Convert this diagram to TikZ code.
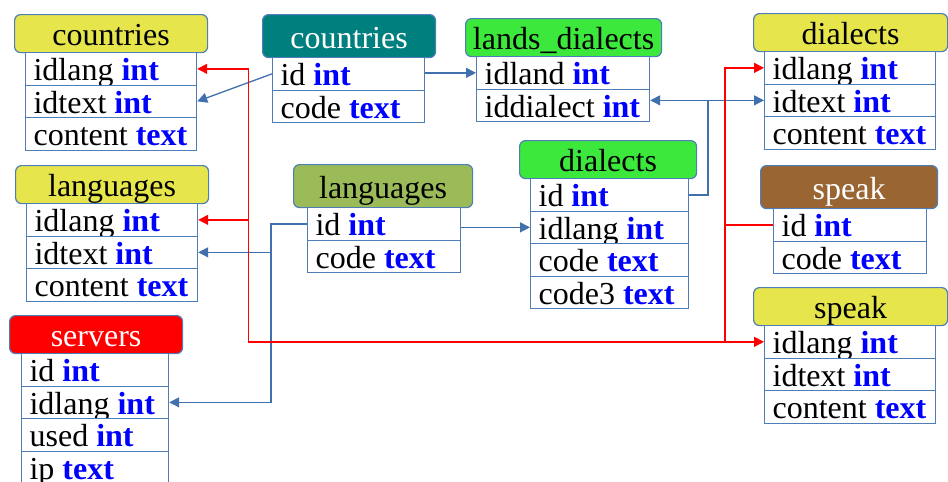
\documentclass[tikz,border=0pt]{standalone}
\usepackage{fontspec}
\setmainfont{Liberation Serif}
\usepackage{tikz}
\usetikzlibrary{arrows.meta}
\definecolor{hdryellow}{HTML}{E6E64C}
\definecolor{hdrteal}{HTML}{007F7F}
\definecolor{hdrgreen}{HTML}{3DE83D}
\definecolor{hdrolive}{HTML}{9BBB59}
\definecolor{hdrbrown}{HTML}{996633}
\definecolor{hdrred}{HTML}{FF0000}
\definecolor{boxline}{HTML}{4F7DB8}
\definecolor{typeblue}{HTML}{0000FF}
\definecolor{linkblue}{HTML}{4270AC}
\tikzset{
  hdr/.style={draw=boxline, line width=0.6pt, rounded corners=3pt, anchor=north west,
    inner sep=0pt, text height=13.5pt, text depth=1.5pt, font=\fontsize{16}{18}\selectfont},
  fld/.style={draw=boxline, line width=0.6pt, fill=white, anchor=north west,
    inner xsep=4pt, inner ysep=0pt, minimum height=16.25pt, text height=13.5pt,
    text depth=1.5pt, font=\fontsize{16}{18}\selectfont},
  blink/.style={-{Triangle[length=5pt,width=5pt]}, line width=0.65pt, draw=linkblue},
  rlink/.style={-{Triangle[length=5pt,width=5pt]}, line width=0.65pt, draw=red}
}
\newcommand{\Hdr}[8]{% name, x, y, width, height, fill, text colour, title
  \node[hdr, fill=#6, text=#7, minimum width=#4*0.5pt, minimum height=#5*0.5pt] (#1) at (#2,#3) {#8};
}
\newcommand{\Rows}[5]{% prefix, x, y, width, field/type list
  \pgfmathsetmacro{\fldw}{#4*0.5-8}
  \foreach \fn/\ty [count=\k] in {#5}
    \node[fld] (#1\k) at (#2,{#3+32.5*(\k-1)})
      {\makebox[\fldw pt][l]{\fn\ \textcolor{typeblue}{\textbf{\ty}}}};
}

\begin{document}
\begin{tikzpicture}[x=0.5pt, y=-0.5pt]
  \useasboundingbox (0,0) rectangle (948,482);
  % tables
  \Hdr{cth}{14}{14}{193}{38}{hdryellow}{black}{countries}
  \Rows{ctxt}{25}{52}{171}{idlang/int, idtext/int, content/text}
  \Hdr{clh}{262}{14}{173}{43}{hdrteal}{white}{countries}
  \Rows{clnd}{272}{57}{152}{id/int, code/text}
  \Hdr{ldh}{465}{18}{196}{38}{hdrgreen}{black}{lands\_dialects}
  \Rows{ld}{476}{56}{173}{idland/int, iddialect/int}
  \Hdr{dth}{753}{13}{194}{38}{hdryellow}{black}{dialects}
  \Rows{dtxt}{764}{51}{171}{idlang/int, idtext/int, content/text}
  \Hdr{lth}{15}{165}{193}{38}{hdryellow}{black}{languages}
  \Rows{ltxt}{26}{203}{171}{idlang/int, idtext/int, content/text}
  \Hdr{lgh}{293}{164}{179}{43}{hdrolive}{black}{languages}
  \Rows{lng}{307}{207}{153}{id/int, code/text}
  \Hdr{dih}{519}{140}{177}{38}{hdrgreen}{black}{dialects}
  \Rows{dia}{530}{178}{158}{id/int, idlang/int, code/text, code3/text}
  \Hdr{sph}{760}{165}{177}{43}{hdrbrown}{white}{speak}
  \Rows{spk}{773}{208}{153}{id/int, code/text}
  \Hdr{sth}{753}{287}{194}{38}{hdryellow}{black}{speak}
  \Rows{stxt}{764}{325}{171}{idlang/int, idtext/int, content/text}
  \Hdr{svh}{9}{315}{173}{38}{hdrred}{white}{servers}
  \Rows{srv}{21}{353}{147}{id/int, idlang/int, used/int, ip/text}
  % junctions
  \path (dtxt2.west) ++(-56,0) coordinate (jd);
  \path (lng1.west) ++(-36,0) coordinate (jl);
  \path (spk1.west) ++(-48,0) coordinate (js);
  \path (ctxt1.east) ++(51,0) coordinate (jc);
  % blue links
  \draw[blink] (clnd1.west) -- (ctxt2.east);
  \draw[blink] (ld1.west -| clnd1.east) -- (ld1.west);
  \draw[blink] (dia1.east) -| (jd) -- (jd -| ld2.east);
  \draw[blink] (jd) -- (dtxt2.west);
  \draw[blink] (dia2.west -| lng1.east) -- (dia2.west);
  \draw[blink] (lng1.west) -- (jl) |- (srv2.east);
  \draw[blink] (jl |- ltxt2.east) -- (ltxt2.east);
  % red links
  \draw[rlink] (spk1.west) -- (js) |- (dtxt1.west);
  \draw[rlink] (js) |- (stxt1.west);
  \draw[rlink] (js |- stxt1.west) -| (jc) -- (ctxt1.east);
  \draw[rlink] (jc |- ltxt1.east) -- (ltxt1.east);
\end{tikzpicture}
\end{document}
